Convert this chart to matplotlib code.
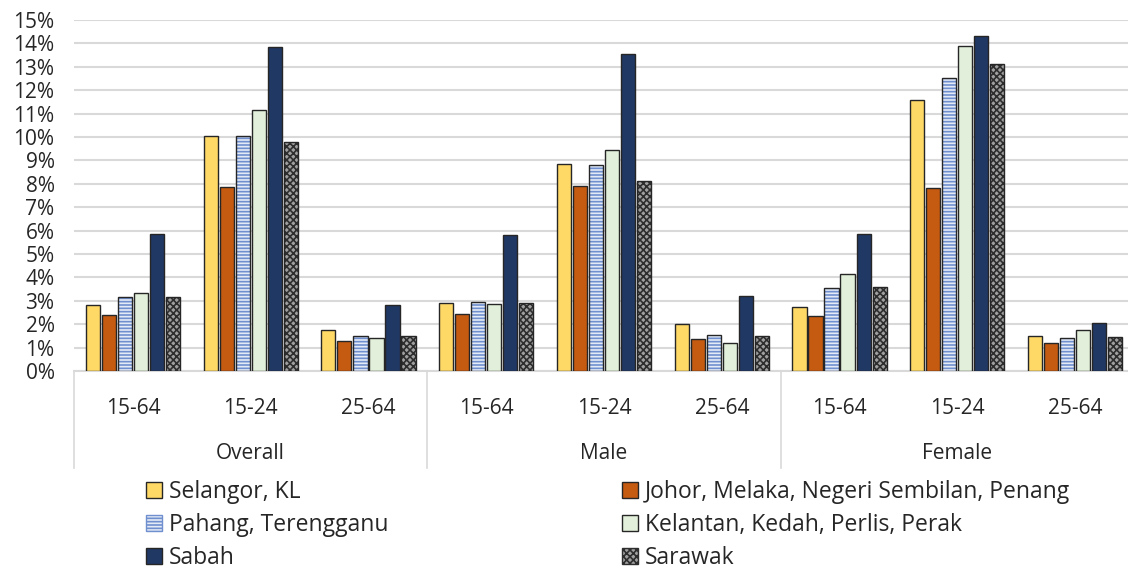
import matplotlib
matplotlib.use("Agg")
import matplotlib.pyplot as plt
from matplotlib.patches import Patch
import numpy as np

plt.rcParams["font.family"] = ["Open Sans", "DejaVu Sans"]
plt.rcParams["hatch.linewidth"] = 1.2

# Data (unemployment rate, %)
groups = ["Overall", "Male", "Female"]
ages = ["15-64", "15-24", "25-64"]
regions = [
    "Selangor, KL",
    "Johor, Melaka, Negeri Sembilan, Penang",
    "Pahang, Terengganu",
    "Kelantan, Kedah, Perlis, Perak",
    "Sabah",
    "Sarawak",
]
selangor = [2.8, 10.05, 1.75, 2.9, 8.85, 2.0, 2.75, 11.6, 1.5]
johor = [2.4, 7.85, 1.3, 2.45, 7.9, 1.35, 2.35, 7.8, 1.2]
pahang = [3.15, 10.05, 1.5, 2.95, 8.8, 1.55, 3.55, 12.5, 1.4]
kelantan = [3.35, 11.15, 1.4, 2.85, 9.45, 1.2, 4.15, 13.9, 1.75]
sabah = [5.85, 13.85, 2.8, 5.8, 13.55, 3.2, 5.85, 14.3, 2.05]
sarawak = [3.15, 9.8, 1.5, 2.9, 8.1, 1.5, 3.6, 13.1, 1.45]
series = [selangor, johor, pahang, kelantan, sabah, sarawak]

# face, hatch, hatch colour
styles = [
    ("#ffd966", None, None),
    ("#c55a11", None, None),
    ("#e4ebf7", "-----", "#6f8fcf"),
    ("#e2efda", None, None),
    ("#203864", None, None),
    ("#a0a0a0", "xxxxx", "#2e2e2e"),
]

text_col = "#262626"
fs = 15
leg_fs = 16.5

fig = plt.figure(figsize=(11.28, 5.73), dpi=100)
ax = fig.add_axes([74 / 1128, 202 / 573, 1060 / 1128, 351 / 573])

x = np.arange(len(groups) * len(ages))
pitch = 0.136
width = 0.12
for k, vals in enumerate(series):
    face, hatch, hcol = styles[k]
    pos = x + (k - 2.5) * pitch
    v = np.array(vals) / 100
    if hatch:
        ax.bar(pos, v, width, color=face, hatch=hatch, edgecolor=hcol,
               linewidth=0, zorder=3)
        ax.bar(pos, v, width, fill=False, edgecolor="#262626",
               linewidth=1.0, zorder=4)
    else:
        ax.bar(pos, v, width, color=face, edgecolor="#262626",
               linewidth=1.0, zorder=3)

ax.set_xlim(-0.5, len(x) - 0.5)
ax.set_ylim(0, 0.15)
ax.set_yticks(np.arange(0, 0.151, 0.01))
ax.set_yticklabels([f"{i}%" for i in range(16)], fontsize=fs, color=text_col)
ax.tick_params(axis="y", length=0, pad=14)
ax.set_xticks([])
ax.grid(axis="y", color="#d9d9d9", linewidth=1.5, zorder=0)
ax.set_axisbelow(True)
for s in ["top", "right", "left"]:
    ax.spines[s].set_visible(False)
ax.spines["bottom"].set_color("#d9d9d9")
ax.spines["bottom"].set_linewidth(1.5)

# category labels
tr = ax.get_xaxis_transform()
for i in range(len(x)):
    ax.text(x[i], -0.108, ages[i % 3], transform=tr, ha="center", va="center",
            fontsize=fs, color=text_col)
for g, name in enumerate(groups):
    ax.text(3 * g + 1, -0.235, name, transform=tr, ha="center", va="center",
            fontsize=fs, color=text_col)
for b in [-0.5, 2.5, 5.5, 8.5]:
    ax.plot([b, b], [0, -0.276], transform=tr, color="#d9d9d9", lw=1.2,
            clip_on=False)

# legend, two columns placed separately
handles = []
for k, name in enumerate(regions):
    face, hatch, hcol = styles[k]
    if hatch:
        handles.append(Patch(facecolor=face, hatch=hatch, edgecolor=hcol,
                             label=name))
    else:
        handles.append(Patch(facecolor=face, edgecolor="#262626", label=name))

leg_kw = dict(frameon=False, fontsize=leg_fs, handlelength=0.7,
              handleheight=0.7, handletextpad=0.3, labelspacing=0.4,
              borderaxespad=0, borderpad=0, labelcolor=text_col,
              loc="upper left")
fig.legend([handles[0], handles[2], handles[4]],
           [regions[0], regions[2], regions[4]],
           bbox_to_anchor=(146 / 1128, 1 - 480 / 573), **leg_kw)
fig.legend([handles[1], handles[3], handles[5]],
           [regions[1], regions[3], regions[5]],
           bbox_to_anchor=(622 / 1128, 1 - 480 / 573), **leg_kw)

fig.savefig("out.png", dpi=100)
